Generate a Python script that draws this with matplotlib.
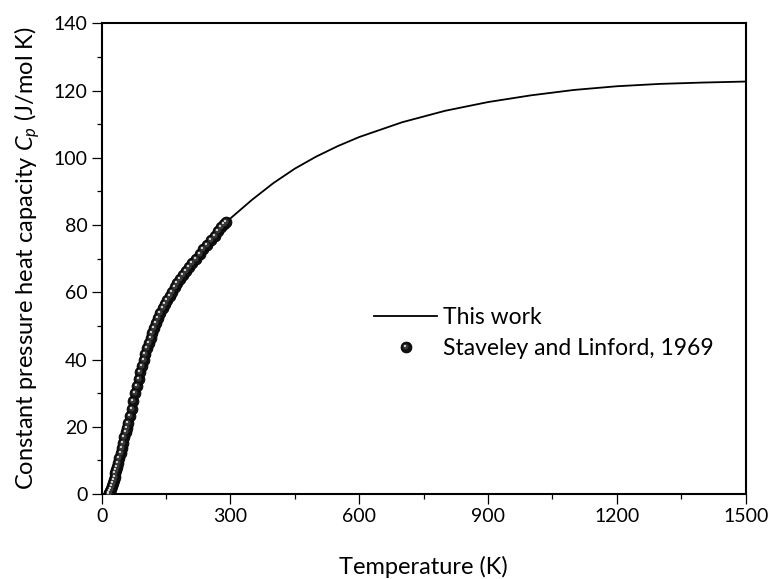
import matplotlib
matplotlib.use('Agg')
from matplotlib import pyplot as plt
from matplotlib.path import Path
from matplotlib.legend_handler import HandlerTuple
from matplotlib.ticker import MultipleLocator

# model curve ("This work")
T_fit = [5, 10, 15, 20, 25, 30, 35, 40, 45, 50, 60, 70, 80, 90, 100, 120,
         140, 160, 180, 200, 225, 250, 275, 300, 350, 400, 450, 500, 550,
         600, 700, 800, 900, 1000, 1100, 1200, 1300, 1400, 1500]
Cp_fit = [0.0, 0.5, 1.4, 2.7, 4.3, 6.1, 8.1, 10.2, 12.5, 15.0, 20.2, 25.4,
          30.8, 36.0, 40.7, 48.6, 54.6, 59.6, 63.6, 67.0, 71.0, 74.8, 78.5,
          82.0, 87.5, 92.5, 96.8, 100.4, 103.5, 106.2, 110.6, 114.0, 116.6,
          118.6, 120.2, 121.3, 122.0, 122.4, 122.7]

# Staveley and Linford, 1969
T_exp = [16, 18, 20, 22, 24, 26, 28, 30, 32, 34, 36, 38, 41, 44, 47, 50, 53,
         56, 59, 62, 66, 70, 74, 78, 82, 86, 90, 94, 98, 102, 106, 110, 114,
         118, 122, 127, 132, 137, 142, 147, 152, 158, 164, 170, 176, 182, 189,
         196, 203, 211, 219, 228, 237, 246, 255, 264, 272, 279, 285, 290]
Cp_exp = [0.1, 0.4, 0.9, 1.5, 2.3, 3.2, 4.1, 5.1, 6.1, 7.1, 8.1, 9.1, 10.6,
          12.1, 13.7, 15.3, 16.9, 18.3, 19.7, 21.2, 23.2, 25.4, 27.6, 29.9,
          32.1, 34.2, 36.2, 38.1, 39.9, 41.6, 43.3, 45.0, 46.5, 47.9, 49.3,
          50.9, 52.4, 53.9, 55.2, 56.4, 57.6, 58.9, 60.2, 61.6, 62.8, 63.9,
          65.2, 66.4, 67.5, 68.8, 70.0, 71.4, 72.8, 74.2, 75.5, 76.9, 78.2,
          79.3, 80.2, 81.0]


def sphere_layer(cx, cy, r):
    # offset circle inside a fixed [-0.5, 0.5] box so the marker keeps its scale
    box = Path([[-0.5, -0.5], [0.5, 0.5]], [Path.MOVETO, Path.MOVETO])
    circ = Path.circle((cx, cy), r)
    return Path.make_compound_path(box, circ)


plt.rcParams['font.family'] = ['Lato', 'DejaVu Sans']
plt.rcParams['mathtext.fontset'] = 'custom'
plt.rcParams['mathtext.it'] = 'Lato:italic'
plt.rcParams['mathtext.rm'] = 'Lato'

fig = plt.figure(figsize=(7.69, 5.79), dpi=100)
ax = fig.add_axes([0.1322, 0.1468, 0.8375, 0.8128])

line, = ax.plot(T_fit, Cp_fit, color='black', lw=1.3, zorder=2)
ms = 7.8
base, = ax.plot(T_exp, Cp_exp, ls='none', marker='o', ms=ms, mfc='#101010',
                mec='black', mew=0.6, zorder=3)
mid, = ax.plot(T_exp, Cp_exp, ls='none', marker=sphere_layer(-0.07, 0.07, 0.26),
               ms=ms, mfc='#383838', mew=0, zorder=3)
hl, = ax.plot(T_exp, Cp_exp, ls='none', marker=sphere_layer(-0.14, 0.14, 0.1),
              ms=ms, mfc='#e6e6e6', mew=0, zorder=3)

ax.set_xlim(0, 1500)
ax.set_ylim(0, 140)
ax.xaxis.set_major_locator(MultipleLocator(300))
ax.xaxis.set_minor_locator(MultipleLocator(150))
ax.yaxis.set_major_locator(MultipleLocator(20))
ax.yaxis.set_minor_locator(MultipleLocator(10))
ax.tick_params(which='both', direction='out', top=False, right=False,
               labelsize=14, width=0.9)
ax.tick_params(which='major', length=7.2)
ax.tick_params(which='minor', length=3.6)
ax.tick_params(axis='x', pad=3)
ax.tick_params(axis='y', pad=3)
for sp in ax.spines.values():
    sp.set_linewidth(1.5)

ax.set_xlabel('Temperature (K)', fontsize=17, labelpad=22)
ax.set_ylabel('Constant pressure heat capacity $C_p$ (J/mol K)', fontsize=17,
              labelpad=8)

ax.legend([line, (base, mid, hl)], ['This work', 'Staveley and Linford, 1969'],
          handler_map={tuple: HandlerTuple(ndivide=1)},
          loc='center left', bbox_to_anchor=(0.423, 0.342), frameon=False,
          borderpad=0, borderaxespad=0, fontsize=16.5, handlelength=2.75,
          handletextpad=0.25, labelspacing=0.45)

plt.savefig('out.png', dpi=100)
